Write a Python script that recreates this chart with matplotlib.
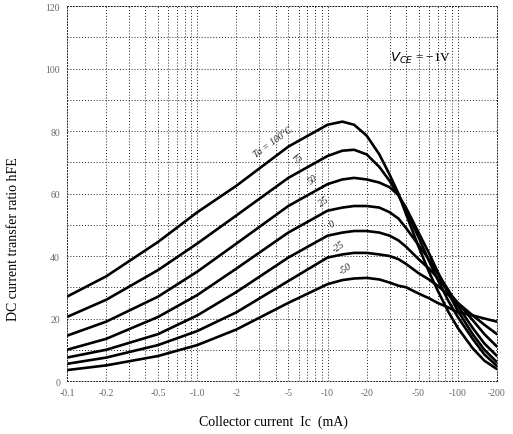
import numpy as np
import matplotlib
matplotlib.use('Agg')
import matplotlib.pyplot as plt
from matplotlib.ticker import FixedLocator, NullFormatter

plt.rcParams['font.family'] = ['Liberation Serif', 'DejaVu Serif']

# collector current (mA, magnitude) and hFE for each ambient temperature
ic = [0.1, 0.2, 0.5, 1, 2, 5, 10, 13, 16, 20, 25, 30, 35, 40, 50, 60, 70, 85, 100, 130, 160, 200]
hfe_100 = [27, 33.5, 44.5, 54, 62.5, 75, 82, 83, 82, 78.5, 72.5, 66, 60, 53.5, 43, 35, 29, 22, 17, 10.5, 6.5, 3.8]
hfe_75 = [20.5, 26, 35.5, 44, 53, 65, 72, 73.7, 74, 72.5, 68.5, 64, 59.5, 54.5, 46, 38.5, 32.5, 25.5, 20.5, 13.5, 8.5, 4.8]
hfe_50 = [14.5, 19, 27, 35, 44, 56, 63, 64.5, 65, 64.5, 63.5, 62, 59.5, 55.5, 47.5, 41, 35, 28, 22.5, 15, 10, 6]
hfe_25 = [10, 13.5, 20.5, 27.5, 36, 47.5, 54.5, 55.5, 56, 56, 55.5, 54, 52, 49, 43.5, 39, 34.5, 29, 24, 17, 12, 8]
hfe_0 = [7.5, 10, 15, 21, 28.5, 39.5, 46.5, 47.5, 48, 48, 47.5, 46.5, 45, 43, 39, 36, 33, 28.5, 25, 19.5, 15, 11]
hfe_m25 = [5.5, 7.5, 11.5, 16, 22, 32, 39.5, 40.5, 41, 41, 40.5, 40, 39, 37.5, 34.5, 32.5, 30.5, 27.5, 25, 21, 18, 15]
hfe_m50 = [3.5, 5, 8, 11.5, 16.5, 25, 31, 32.3, 32.8, 33, 32.5, 31.5, 30.5, 30, 28, 26.5, 25, 23.5, 22, 21, 20, 19]
curves = [hfe_100, hfe_75, hfe_50, hfe_25, hfe_0, hfe_m25, hfe_m50]

xticks = [0.1, 0.2, 0.5, 1, 2, 5, 10, 20, 50, 100, 200]
xticklabels = ['-0.1', '-0.2', '-0.5', '-1.0', '-2', '-5', '-10', '-20', '-50', '-100', '-200']
yticks = [0, 20, 40, 60, 80, 100, 120]

# temperature labels: text, position, rotation
temp_labels = [
    ('Ta = 100°C', 3.85, 76.5, 36),
    ('75', 6.0, 71.5, 40),
    ('50', 7.8, 64.5, 40),
    ('25', 9.3, 57.5, 35),
    ('0', 10.9, 50.5, 35),
    ('-25', 12.2, 43, 35),
    ('-50', 13.8, 36, 35),
]

fig = plt.figure(figsize=(5.13, 4.35), dpi=100)
ax = fig.add_axes([0.1306, 0.1218, 0.8382, 0.8621])

ax.set_xscale('log')
ax.set_xlim(0.1, 200)
ax.set_ylim(0, 120)

for h in curves:
    ax.plot(ic, h, color='black', lw=1.9, solid_capstyle='round')

# dotted chart-paper grid
minor_x = [m * 10.0 ** e for e in range(-1, 3) for m in range(1, 10)]
minor_x = [v for v in minor_x if 0.1 <= v <= 200]
ax.xaxis.set_major_locator(FixedLocator(xticks))
ax.xaxis.set_minor_locator(FixedLocator(minor_x))
ax.xaxis.set_minor_formatter(NullFormatter())
ax.set_xticklabels(xticklabels)
ax.set_yticks(yticks)
ax.set_yticks(np.arange(0, 121, 10), minor=True)
ax.grid(which='both', linestyle=(0, (1, 2)), color='#222222', lw=0.7)
ax.tick_params(which='both', length=0, labelsize=7, labelcolor='#666666', pad=5)

for s in ax.spines.values():
    s.set_linestyle((0, (1, 2)))
    s.set_linewidth(0.7)
    s.set_color('#222222')

for txt, x, y, rot in temp_labels:
    ax.text(x, y, txt, fontsize=7, rotation=rot, ha='center', va='center',
            color='#222222', style='italic')

ax.text(30, 103.5, r'$V_{CE}$ = −1V', fontsize=9.5, ha='left', va='center')

ax.set_xlabel('Collector current  Ic  (mA)', fontsize=10)
ax.set_ylabel('DC current transfer ratio hFE', fontsize=10)
ax.xaxis.set_label_coords(0.48, -0.088)
ax.yaxis.set_label_coords(-0.11, 0.38)

fig.savefig('out.png', dpi=100)
